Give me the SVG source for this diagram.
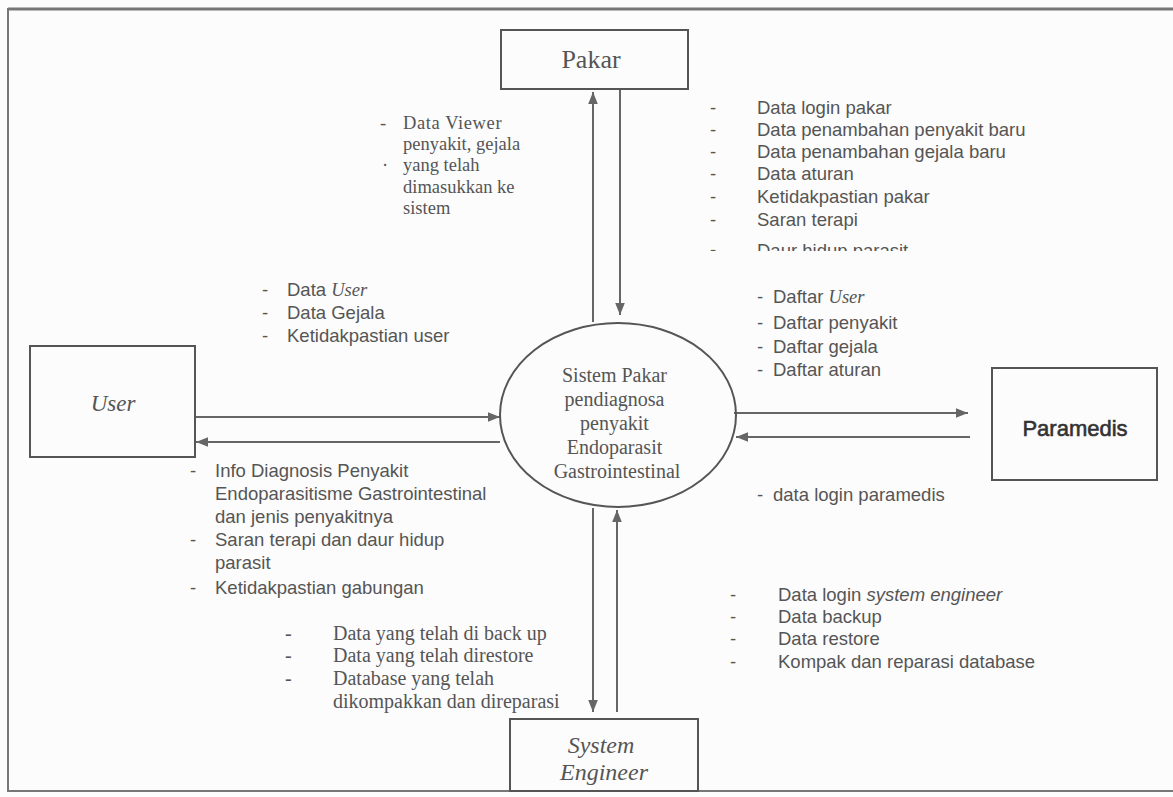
<svg xmlns="http://www.w3.org/2000/svg" width="1173" height="797" viewBox="0 0 1173 797">
<style>
.box{fill:none;stroke:#555;stroke-width:2}
.ln{fill:none;stroke:#666;stroke-width:2}
.s{font-family:"Liberation Sans",Arial,sans-serif;font-size:18.5px;fill:#555}
.t{font-family:"Liberation Serif","Times New Roman",serif;fill:#555}
</style>
<defs>
<marker id="ahb" viewBox="0 0 10 10" refX="10" refY="5" markerWidth="12" markerHeight="12" markerUnits="userSpaceOnUse" orient="auto">
<path d="M0,1 L10,5 L0,9 Z" fill="#666"/>
</marker>
<clipPath id="cp"><rect x="690" y="80" width="400" height="171"/></clipPath>
</defs>
<rect x="0" y="0" width="1173" height="797" fill="#fcfcfc"/>
<rect x="8" y="9" width="1180" height="782" fill="none" stroke="#777" stroke-width="2"/>
<line x1="8" y1="9" x2="1173" y2="9" stroke="#777" stroke-width="3"/>

<g id="connectors">
<line class="ln" x1="593" y1="322" x2="593" y2="92" marker-end="url(#ahb)"/>
<line class="ln" x1="620" y1="89" x2="620" y2="315" marker-end="url(#ahb)"/>
<line class="ln" x1="195" y1="417" x2="500" y2="417" marker-end="url(#ahb)"/>
<line class="ln" x1="500" y1="442" x2="196" y2="442" marker-end="url(#ahb)"/>
<line class="ln" x1="734" y1="413" x2="968" y2="413" marker-end="url(#ahb)"/>
<line class="ln" x1="970" y1="437" x2="736" y2="437" marker-end="url(#ahb)"/>
<line class="ln" x1="593" y1="508" x2="593" y2="712" marker-end="url(#ahb)"/>
<line class="ln" x1="617" y1="712" x2="617" y2="510" marker-end="url(#ahb)"/>
</g>

<g id="pakar">
<rect class="box" x="501" y="30" width="187" height="59"/>
<text class="t" x="591" y="68" font-size="26" text-anchor="middle">Pakar</text>
</g>

<g id="user">
<rect class="box" x="30" y="346" width="165" height="111"/>
<text class="t" x="113" y="411" font-size="23" font-style="italic" text-anchor="middle">User</text>
</g>

<g id="process">
<ellipse cx="618" cy="415" rx="118" ry="92" fill="none" stroke="#555" stroke-width="2"/>
<text class="t" font-size="20" text-anchor="middle">
<tspan x="617" y="382">Sistem Pakar</tspan>
<tspan x="617" y="406">pendiagnosa</tspan>
<tspan x="617" y="430">penyakit</tspan>
<tspan x="617" y="454">Endoparasit</tspan>
<tspan x="617" y="478">Gastrointestinal</tspan>
</text>
</g>

<g id="paramedis">
<rect class="box" x="992" y="368" width="165" height="112"/>
<text x="1075" y="436" font-family="Liberation Sans,Arial,sans-serif" font-size="22" fill="#333" stroke="#333" stroke-width="0.6" text-anchor="middle">Paramedis</text>
</g>

<g id="system-engineer">
<rect class="box" x="510" y="719" width="188" height="72"/>
<text class="t" font-size="24" font-style="italic" text-anchor="middle">
<tspan x="604" y="753">System</tspan>
<tspan x="604" y="780">Engineer</tspan>
</text>
</g>

<g id="labels">
<g class="t" font-size="18.5">
<text x="380" y="129">-</text>
<text x="403" y="129" letter-spacing="0.6">Data Viewer</text>
<text x="403" y="150">penyakit, gejala</text>
<text x="382" y="171">·</text>
<text x="403" y="171">yang telah</text>
<text x="403" y="193">dimasukkan ke</text>
<text x="403" y="214">sistem</text>
</g>

<g class="s" clip-path="url(#cp)">
<text x="710" y="114">-</text><text x="757" y="114">Data login pakar</text>
<text x="710" y="136">-</text><text x="757" y="136">Data penambahan penyakit baru</text>
<text x="710" y="158">-</text><text x="757" y="158">Data penambahan gejala baru</text>
<text x="710" y="180">-</text><text x="757" y="180">Data aturan</text>
<text x="710" y="203">-</text><text x="757" y="203">Ketidakpastian pakar</text>
<text x="710" y="226">-</text><text x="757" y="226">Saran terapi</text>
<text x="710" y="256">-</text><text x="757" y="257">Daur hidup parasit</text>
</g>

<g class="s" font-size="18">
<text x="262" y="296">-</text><text x="287" y="296">Data <tspan font-family="Liberation Serif,serif" font-style="italic">User</tspan></text>
<text x="262" y="319">-</text><text x="287" y="319">Data Gejala</text>
<text x="262" y="342">-</text><text x="287" y="342">Ketidakpastian user</text>
</g>

<g class="s" font-size="18.5">
<text x="757" y="303">-</text><text x="773" y="303">Daftar  <tspan font-family="Liberation Serif,serif" font-style="italic">User</tspan></text>
<text x="757" y="329">-</text><text x="773" y="329">Daftar penyakit</text>
<text x="757" y="353">-</text><text x="773" y="353">Daftar  gejala</text>
<text x="757" y="376">-</text><text x="773" y="376">Daftar aturan</text>
<text x="757" y="501">-</text><text x="773" y="501">data login paramedis</text>
</g>

<g class="s">
<text x="190" y="477">-</text><text x="215" y="477">Info Diagnosis Penyakit</text>
<text x="215" y="500">Endoparasitisme Gastrointestinal</text>
<text x="215" y="523">dan jenis penyakitnya</text>
<text x="190" y="546">-</text><text x="215" y="546">Saran terapi dan daur hidup</text>
<text x="215" y="569">parasit</text>
<text x="190" y="594">-</text><text x="215" y="594">Ketidakpastian gabungan</text>
</g>

<g class="t" font-size="20">
<text x="285" y="640">-</text><text x="333" y="640">Data yang telah di back up</text>
<text x="285" y="662">-</text><text x="333" y="662">Data yang telah direstore</text>
<text x="285" y="685">-</text><text x="333" y="685">Database yang telah</text>
<text x="333" y="708">dikompakkan dan direparasi</text>
</g>

<g class="s" font-size="18">
<text x="730" y="601">-</text><text x="778" y="601">Data login <tspan font-style="italic">system engineer</tspan></text>
<text x="730" y="623">-</text><text x="778" y="623">Data backup</text>
<text x="730" y="645">-</text><text x="778" y="645">Data restore</text>
<text x="730" y="668">-</text><text x="778" y="668">Kompak dan reparasi database</text>
</g>
</g>
</svg>
